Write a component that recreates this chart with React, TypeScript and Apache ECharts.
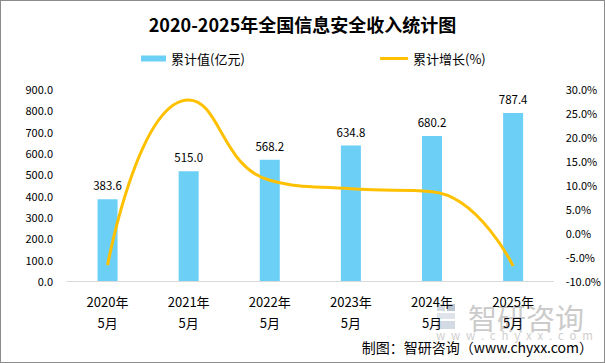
import React, { useEffect, useRef } from "react";
import * as echarts from "echarts";

const categories = ["2020年\n5月", "2021年\n5月", "2022年\n5月", "2023年\n5月", "2024年\n5月", "2025年\n5月"];
const revenue = [383.6, 515.0, 568.2, 634.8, 680.2, 787.4];
const growth = [-6.7, 27.7, 11.0, 9.2, 8.6, -6.9];
const leftTicks = { min: 0, max: 900, interval: 100 };
const rightTicks = { min: -10, max: 30, interval: 5 };
const watermarkUrl = "www.chyxx.com";

const FONT = "'Noto Sans CJK SC', 'Noto Sans', sans-serif";

export default function App() {
  const ref = useRef<HTMLDivElement>(null);
  useEffect(() => {
    document.body.style.margin = "0";
    const chart = echarts.init(ref.current!, undefined, { renderer: "svg" });
    chart.setOption({
      animation: false,
      backgroundColor: "#ffffff",
      textStyle: { fontFamily: FONT },
      title: {
        text: "2020-2025年全国信息安全收入统计图",
        left: "center",
        top: 9,
        textStyle: { fontSize: 18, fontWeight: "bold", color: "#000", fontFamily: FONT },
      },
      legend: [
        {
          left: 135,
          top: 46,
          itemWidth: 25,
          itemHeight: 6,
          textStyle: { fontSize: 13, color: "#000", fontFamily: FONT },
          data: [{ name: "累计值(亿元)", icon: "rect" }],
        },
        {
          left: 374,
          top: 46,
          itemWidth: 28,
          itemHeight: 3,
          textStyle: { fontSize: 13, color: "#000", fontFamily: FONT },
          data: [{ name: "累计增长(%)", icon: "roundRect" }],
        },
      ],
      grid: { left: 66, right: 50, top: 88, bottom: 81 },
      xAxis: {
        type: "category",
        data: categories,
        axisLine: { lineStyle: { color: "#d9d9d9" } },
        axisTick: { show: false },
        axisLabel: { color: "#000", fontSize: 13, lineHeight: 21, margin: 10, fontFamily: FONT },
      },
      yAxis: [
        {
          type: "value",
          min: leftTicks.min,
          max: leftTicks.max,
          interval: leftTicks.interval,
          splitLine: { show: false },
          axisLine: { show: false },
          axisTick: { show: false },
          axisLabel: { color: "#000", fontSize: 11, margin: 14, formatter: (v: number) => v.toFixed(1), fontFamily: FONT },
        },
        {
          type: "value",
          min: rightTicks.min,
          max: rightTicks.max,
          interval: rightTicks.interval,
          splitLine: { show: false },
          axisLine: { show: false },
          axisTick: { show: false },
          axisLabel: { color: "#000", fontSize: 11, margin: 12, formatter: (v: number) => v.toFixed(1) + "%", fontFamily: FONT },
        },
      ],
      series: [
        {
          name: "累计值(亿元)",
          type: "bar",
          data: revenue,
          barWidth: 20,
          itemStyle: { color: "#6ccff6" },
          label: {
            show: true,
            position: "top",
            distance: 8,
            color: "#000",
            fontSize: 11.5,
            formatter: (p: any) => Number(p.value).toFixed(1),
            fontFamily: FONT,
          },
        },
        {
          name: "累计增长(%)",
          type: "line",
          yAxisIndex: 1,
          data: growth,
          smooth: 0.5,
          symbol: "none",
          itemStyle: { color: "#ffc000" },
          lineStyle: { color: "#ffc000", width: 3 },
        },
      ],
      graphic: [
        { type: "rect", silent: true, shape: { x: 436, y: 303, width: 8, height: 7 }, style: { fill: "#d3dae4" } },
        { type: "rect", silent: true, shape: { x: 446, y: 303, width: 8, height: 7 }, style: { fill: "#bcc6d3" } },
        { type: "rect", silent: true, shape: { x: 436, y: 312, width: 18, height: 6 }, style: { fill: "#dfe4ea" } },
        { type: "rect", silent: true, shape: { x: 436, y: 320, width: 18, height: 8 }, style: { fill: "#d3dae4" } },
        {
          type: "text",
          x: 467,
          y: 301,
          silent: true,
          style: { text: "智研咨询", fontSize: 29, fill: "#cbcbcb", fontFamily: FONT },
        },
        {
          type: "text",
          x: 435,
          y: 328,
          silent: true,
          style: { text: watermarkUrl.split("").join("\u2002"), fontSize: 11.5, fill: "#cfcfcf", fontFamily: FONT },
        },
        {
          type: "text",
          right: 11,
          top: 339,
          style: { text: "制图：智研咨询（www.chyxx.com）", fontSize: 14, fill: "#000", fontFamily: FONT },
        },
      ],
    });
    return () => chart.dispose();
  }, []);
  return (
    <div
      ref={ref}
      style={{
        position: "absolute",
        left: 0,
        top: 0,
        width: 605,
        height: 363,
        boxSizing: "border-box",
        border: "1px solid #8c8c8c",
      }}
    />
  );
}
